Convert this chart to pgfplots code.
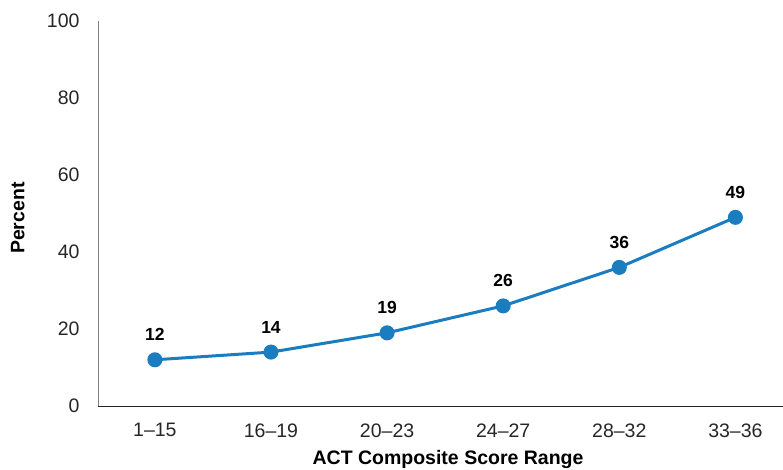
\documentclass[border=0pt]{standalone}
\usepackage{pgfplots}
\pgfplotsset{compat=1.18}
\usepackage{fontspec}
\setmainfont{Liberation Sans}
\definecolor{lineblue}{HTML}{1A7DC0}
\definecolor{ygray}{HTML}{808080}
\begin{document}
\begin{tikzpicture}
\begin{axis}[
  at={(98pt,64pt)}, anchor=south west,
  scale only axis, width=685pt, height=385pt,
  xmin=-0.49, xmax=5.41, ymin=0, ymax=100,
  axis x line=bottom, axis y line=left,
  axis line style={-},
  x axis line style={draw=black!85, line width=0.8pt},
  y axis line style={draw=ygray, line width=0.8pt},
  xtick={0,1,2,3,4,5},
  xticklabels={1--15,16--19,20--23,24--27,28--32,33--36},
  ytick={0,20,40,60,80,100},
  major tick length=0pt,
  /pgf/number format/assume math mode=true,
  tick label style={font=\fontsize{19.5}{22}\selectfont, text=black!85},
  yticklabel style={xshift=-15pt},
  xticklabel style={yshift=-14pt},
  xlabel={\textbf{ACT Composite Score Range}},
  ylabel={\textbf{Percent}},
  label style={font=\fontsize{19.5}{22}\selectfont},
  xlabel style={at={(axis description cs:0.511,-0.140)}, anchor=center},
  ylabel style={at={(axis description cs:-0.117,0.488)}, anchor=center, rotate=0},
  nodes near coords,
  every node near coord/.append style={font=\fontsize{17.5}{20}\selectfont\bfseries, text=black, yshift=14pt},
  clip=false,
]
\addplot[color=lineblue, line width=3pt, mark=*, mark size=6pt, mark options={fill=lineblue, draw=lineblue}]
coordinates {(0,12) (1,14) (2,19) (3,26) (4,36) (5,49)};
\end{axis}
\pgfresetboundingbox
\path[use as bounding box] (0,0) rectangle (783pt,470pt);
\end{tikzpicture}
\end{document}
